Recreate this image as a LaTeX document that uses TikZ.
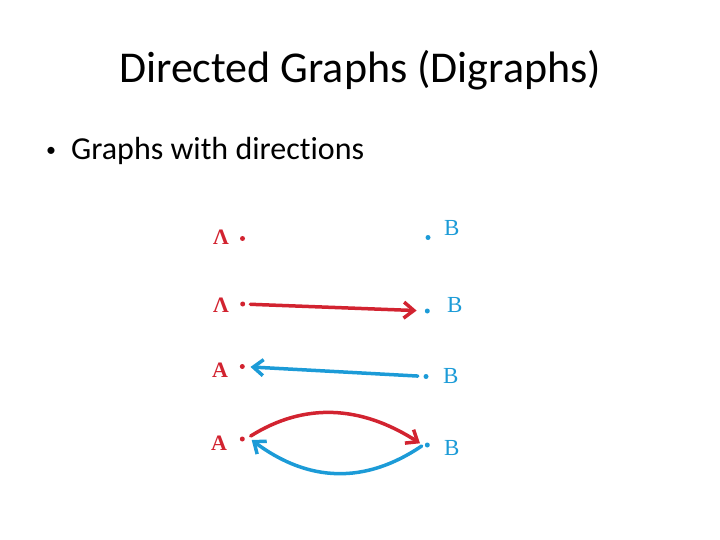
\documentclass[tikz,border=0pt]{standalone}
\usepackage{fontspec}
\setmainfont{Carlito}[Ligatures=NoCommon]
\newfontfamily\lettfont{Liberation Serif}
\usetikzlibrary{arrows.meta}
\definecolor{penred}{RGB}{210,35,48}
\definecolor{penblue}{RGB}{28,155,215}
\tikzset{
  reddot/.style={circle,fill=penred,inner sep=0pt,minimum size=5pt},
  bluedot/.style={circle,fill=penblue,inner sep=0pt,minimum size=5pt},
  lettA/.style={anchor=base west,inner sep=0pt,text=penred,font=\lettfont\bfseries\fontsize{22}{26}\selectfont},
  lettB/.style={anchor=base west,inner sep=0pt,text=penblue,font=\lettfont\fontsize{23}{27}\selectfont},
  barb/.tip={Straight Barb[length=10pt,width=16pt]},
  redarrow/.style={draw=penred,line width=3.5pt,line cap=round,-barb},
  bluearrow/.style={draw=penblue,line width=3.5pt,line cap=round,-barb},
}
\begin{document}
\begin{tikzpicture}[x=1pt,y=-1pt]
\useasboundingbox (0,0) rectangle (720,540);
\node[anchor=base,inner sep=0pt,font=\fontsize{44}{52}\selectfont] (title) at (360,83) {Directed Graphs (Digraphs)};
\node[anchor=base west,inner sep=0pt,font=\fontsize{20}{24}\selectfont] (bul) at (46,157) {•};
\node[anchor=base west,inner sep=0pt,font=\fontsize{32}{38}\selectfont] (btxt) at (71,160) {Graphs with direct\kern0pt ions};
% row 1
\node[lettA] (A1) at (213,244) {Λ};
\node[reddot] (a1) at (242.5,238.5) {};
\node[bluedot] (b1) at (428,237.5) {};
\node[lettB] (B1) at (444,236) {B};
% row 2
\node[lettA] (A2) at (213,312) {Λ};
\node[reddot] (a2) at (242.7,304) {};
\node[bluedot] (b2) at (427.3,311) {};
\node[lettB] (B2) at (447,312) {B};
\draw[redarrow,shorten <=5pt,shorten >=8pt] (a2) -- (b2);
% row 3
\node[lettA] (A3) at (212,377) {A};
\node[reddot] (a3) at (242.3,366.5) {};
\node[bluedot] (b3) at (426,376.5) {};
\node[lettB] (B3) at (443,383) {B};
\draw[bluearrow,shorten <=5.5pt,shorten >=5.5pt] (b3) -- (a3);
% row 4
\node[lettA] (A4) at (211,450) {A};
\node[reddot] (a4) at (242.3,439) {};
\node[bluedot] (b4) at (427.3,445) {};
\node[lettB] (B4) at (444,455) {B};
\coordinate (r4s) at (250.7,436);
\coordinate (r4e) at (420,443.3);
\coordinate (b4s) at (421.7,446);
\coordinate (b4e) at (251.7,440);
\draw[redarrow] (r4s) .. controls (304,402.6) and (360.4,405) .. (r4e);
\draw[bluearrow] (b4s) .. controls (365,484.4) and (308.4,482.4) .. (b4e);
\end{tikzpicture}
\end{document}
